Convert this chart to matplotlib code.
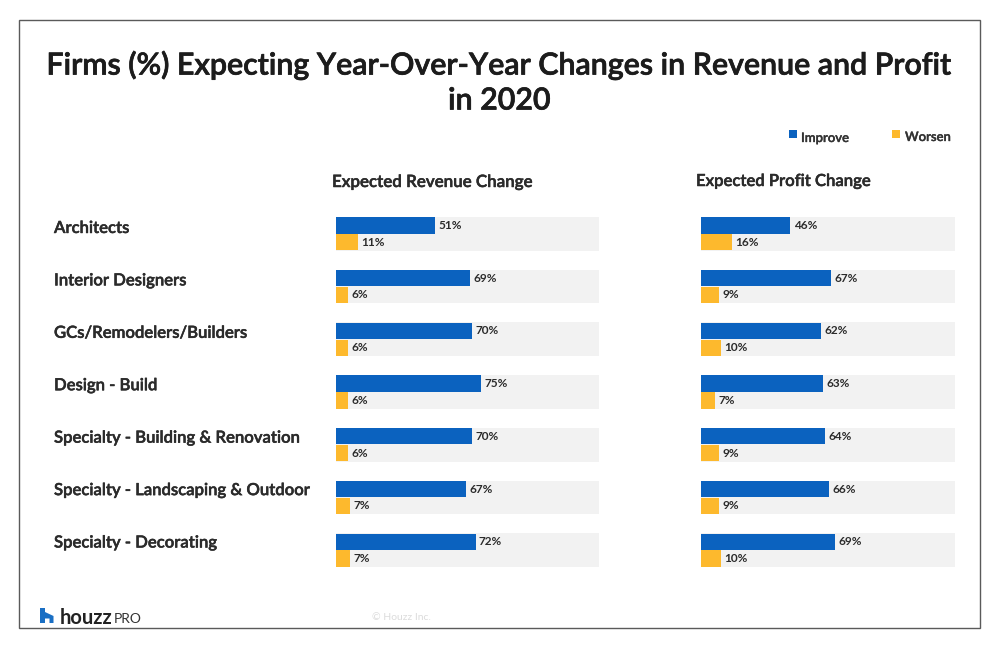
import matplotlib
matplotlib.use('Agg')
import matplotlib.pyplot as plt
import matplotlib.patheffects as pe
from matplotlib.patches import Polygon, Rectangle
from matplotlib.transforms import blended_transform_factory

W, H = 1000, 648

categories = ['Architects', 'Interior Designers', 'GCs/Remodelers/Builders', 'Design - Build',
              'Specialty - Building & Renovation', 'Specialty - Landscaping & Outdoor',
              'Specialty - Decorating']
revenue_improve = [51, 69, 70, 75, 70, 67, 72]
revenue_worsen = [11, 6, 6, 6, 6, 7, 7]
profit_improve = [46, 67, 62, 63, 64, 66, 69]
profit_worsen = [16, 9, 10, 7, 9, 9, 10]

BLUE = '#0b62bf'
YELLOW = '#fdb92d'
TRACK = '#f2f2f2'
DARK = '#2b2b2b'

plt.rcParams['font.family'] = ['Lato', 'DejaVu Sans']

fig = plt.figure(figsize=(W / 100, H / 100), dpi=100, facecolor='white')


# convert pixel positions (origin top left) to figure fractions
def fx(x):
    return x / W


def fy(y):
    return 1 - y / H


# thicken the medium weight a little, Lato has nothing between medium and bold here
def heavier(width, color):
    return [pe.withStroke(linewidth=width, foreground=color)]


def panel(x0, x1, xmax, improve, worsen):
    ax = fig.add_axes([fx(x0), fy(567), fx(x1 - x0), (567 - 217) / H])
    ys = list(range(len(improve)))
    ax.barh(ys, [xmax] * len(ys), height=0.637, color=TRACK, linewidth=0)
    ax.barh([y - 0.16 for y in ys], improve, height=0.31, color=BLUE, linewidth=0)
    ax.barh([y + 0.16 for y in ys], worsen, height=0.31, color=YELLOW, linewidth=0)
    for y, a, b in zip(ys, improve, worsen):
        ax.text(a + 1.7, y - 0.16, f'{a}%', va='center', ha='left', fontsize=8.5, fontweight='bold', color=DARK)
        ax.text(b + 1.7, y + 0.16, f'{b}%', va='center', ha='left', fontsize=8.5, fontweight='bold', color=DARK)
    ax.set_xlim(0, xmax)
    ax.set_ylim(6.318, -0.318)
    ax.axis('off')
    return ax


ax_rev = panel(336.4, 598.9, 135.7, revenue_improve, revenue_worsen)
ax_pro = panel(701.4, 954.9, 131, profit_improve, profit_worsen)

# row labels sit to the left of the first panel
trans = blended_transform_factory(fig.transFigure, ax_rev.transData)
for i, name in enumerate(categories):
    ax_rev.text(fx(54), i * 0.994 - 0.11, name, transform=trans, va='center', ha='left',
                fontsize=12, fontweight='semibold', color=DARK, clip_on=False,
                path_effects=heavier(0.35, DARK))

# title and panel headings
fig.text(fx(499.5), fy(65), 'Firms (%) Expecting Year-Over-Year Changes in Revenue and Profit',
         ha='center', va='center', fontsize=21.85, fontweight='semibold', color='#1c1c1c',
         path_effects=heavier(0.5, '#1c1c1c'))
fig.text(fx(499.5), fy(100.5), 'in 2020', ha='center', va='center', fontsize=21.85, fontweight='semibold',
         color='#1c1c1c', path_effects=heavier(0.5, '#1c1c1c'))
fig.text(fx(332), fy(182), 'Expected Revenue Change', ha='left', va='center', fontsize=12.2,
         fontweight='semibold', color=DARK, path_effects=heavier(0.35, DARK))
fig.text(fx(696), fy(181), 'Expected Profit Change', ha='left', va='center', fontsize=12,
         fontweight='semibold', color=DARK, path_effects=heavier(0.35, DARK))

# legend
fig.add_artist(Rectangle((fx(789), fy(138)), 8 / W, 8 / H, transform=fig.transFigure, color=BLUE, lw=0))
fig.text(fx(801), fy(138), 'Improve', ha='left', va='center', fontsize=9.4, fontweight='semibold', color='#333333',
         path_effects=heavier(0.25, '#333333'))
fig.add_artist(Rectangle((fx(892), fy(138)), 8 / W, 8 / H, transform=fig.transFigure, color=YELLOW, lw=0))
fig.text(fx(905), fy(137), 'Worsen', ha='left', va='center', fontsize=9.4, fontweight='semibold', color='#333333',
         path_effects=heavier(0.25, '#333333'))

# outer frame
fig.add_artist(Rectangle((fx(18.5), fy(628)), 961.5 / W, 608 / H, transform=fig.transFigure,
                         fill=False, edgecolor='#5a5a5a', linewidth=1))

# logo mark and wordmark
logo = [(40, 608), (45, 608), (45, 612), (53.5, 616), (53.5, 623), (49.5, 623), (49.5, 618.5),
        (45, 618.5), (45, 623), (40, 623)]
fig.add_artist(Polygon([(fx(x), fy(y)) for x, y in logo], closed=True, transform=fig.transFigure,
                       color='#1a6fc4', lw=0))
fig.text(fx(60), fy(618), 'houzz', ha='left', va='center', fontsize=14.5, fontweight='bold', color='#222222')
fig.text(fx(114), fy(619), 'PRO', ha='left', va='center', fontsize=10, color='#333333')
fig.text(fx(372), fy(617), '© Houzz Inc.', ha='left', va='center', fontsize=7.5, color='#dcdcdc')

fig.savefig('out.png', dpi=100, facecolor='white')
